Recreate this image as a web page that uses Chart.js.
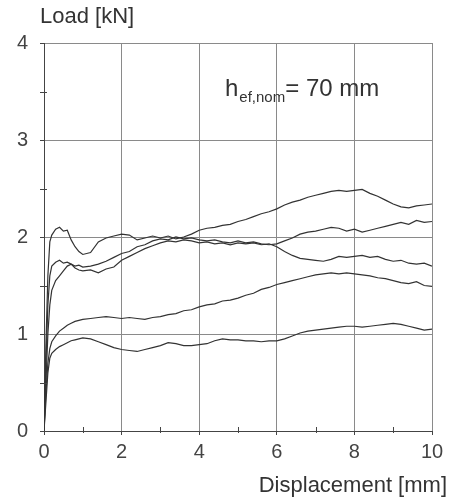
<!DOCTYPE html>
<html>
<head>
<meta charset="utf-8">
<script src="https://cdn.jsdelivr.net/npm/chart.js@4.4.1/dist/chart.umd.min.js"></script>
<style>
  body { margin: 0; background: #fff; }
  canvas { display: block; }
</style>
</head>
<body>
<canvas id="load-chart" width="458" height="502"></canvas>
<script>
// displacement values [mm] shared by all curves
const displacement = [0, 0.05, 0.1, 0.15, 0.2, 0.3, 0.4, 0.5, 0.6, 0.7, 0.8, 0.9, 1.0,
  1.2, 1.4, 1.6, 1.8, 2.0, 2.2, 2.4, 2.6, 2.8, 3.0, 3.2, 3.4, 3.6, 3.8, 4.0,
  4.2, 4.4, 4.6, 4.8, 5.0, 5.2, 5.4, 5.6, 5.8, 6.0, 6.2, 6.4, 6.6, 6.8, 7.0,
  7.2, 7.4, 7.6, 7.8, 8.0, 8.2, 8.4, 8.6, 8.8, 9.0, 9.2, 9.4, 9.6, 9.8, 10.0];

// load [kN] per test
const test1 = [0, 0.9, 1.6, 1.95, 2.02, 2.08, 2.10, 2.06, 2.07, 1.97, 1.90, 1.85, 1.82,
  1.84, 1.95, 1.99, 2.01, 2.03, 2.02, 1.97, 1.99, 2.01, 1.99, 2.01, 1.98, 2.00, 2.03, 2.07,
  2.09, 2.10, 2.12, 2.13, 2.16, 2.18, 2.21, 2.24, 2.26, 2.29, 2.33, 2.36, 2.38, 2.41, 2.43,
  2.45, 2.47, 2.48, 2.47, 2.48, 2.49, 2.45, 2.42, 2.38, 2.34, 2.31, 2.30, 2.32, 2.33, 2.34];
const test2 = [0, 0.7, 1.3, 1.6, 1.70, 1.74, 1.76, 1.73, 1.74, 1.72, 1.70, 1.71, 1.69,
  1.70, 1.72, 1.75, 1.79, 1.83, 1.85, 1.90, 1.92, 1.96, 1.98, 1.97, 2.00, 1.98, 1.99, 1.97,
  1.96, 1.97, 1.95, 1.94, 1.96, 1.94, 1.95, 1.93, 1.92, 1.93, 1.96, 1.99, 2.03, 2.05, 2.06,
  2.08, 2.10, 2.09, 2.06, 2.08, 2.05, 2.07, 2.09, 2.11, 2.13, 2.15, 2.13, 2.17, 2.15, 2.16];
const test3 = [0, 0.5, 1.0, 1.3, 1.45, 1.55, 1.60, 1.65, 1.70, 1.72, 1.68, 1.66, 1.65,
  1.66, 1.63, 1.67, 1.69, 1.76, 1.80, 1.84, 1.88, 1.91, 1.94, 1.96, 1.95, 1.97, 1.96, 1.94,
  1.95, 1.93, 1.94, 1.92, 1.94, 1.93, 1.94, 1.92, 1.93, 1.90, 1.85, 1.81, 1.78, 1.77, 1.76,
  1.75, 1.77, 1.80, 1.79, 1.80, 1.81, 1.79, 1.80, 1.77, 1.75, 1.76, 1.73, 1.72, 1.73, 1.70];
const test4 = [0, 0.4, 0.7, 0.85, 0.92, 0.98, 1.03, 1.06, 1.09, 1.11, 1.13, 1.14, 1.15,
  1.16, 1.17, 1.18, 1.17, 1.16, 1.17, 1.16, 1.15, 1.17, 1.18, 1.20, 1.21, 1.24, 1.25, 1.28,
  1.30, 1.31, 1.34, 1.35, 1.37, 1.40, 1.42, 1.46, 1.48, 1.51, 1.53, 1.55, 1.57, 1.59, 1.61,
  1.62, 1.63, 1.62, 1.63, 1.62, 1.61, 1.60, 1.58, 1.57, 1.55, 1.53, 1.52, 1.54, 1.50, 1.49];
const test5 = [0, 0.3, 0.6, 0.75, 0.80, 0.84, 0.87, 0.89, 0.91, 0.93, 0.94, 0.95, 0.96,
  0.95, 0.92, 0.89, 0.86, 0.84, 0.83, 0.82, 0.84, 0.86, 0.88, 0.91, 0.90, 0.88, 0.88, 0.89,
  0.90, 0.93, 0.95, 0.94, 0.94, 0.93, 0.93, 0.92, 0.93, 0.93, 0.95, 0.98, 1.01, 1.03, 1.04,
  1.05, 1.06, 1.07, 1.08, 1.08, 1.07, 1.08, 1.09, 1.10, 1.11, 1.10, 1.08, 1.06, 1.04, 1.05];

const xMinorTicks = [1, 3, 5, 7, 9];
const yMinorTicks = [0.5, 1.5, 2.5, 3.5];

const FONT = '"Liberation Sans", Arial, sans-serif';
const INK = '#333';

function toPoints(ys) {
  return displacement.map((x, i) => ({ x: x, y: ys[i] }));
}

// titles, annotation and minor ticks
const extras = {
  id: 'extras',
  afterDraw(chart) {
    const ctx = chart.ctx;
    const xs = chart.scales.x, ys = chart.scales.y;
    const a = chart.chartArea;
    ctx.save();
    ctx.strokeStyle = '#444';
    ctx.lineWidth = 1;
    ctx.beginPath();
    yMinorTicks.forEach(v => {
      const py = Math.round(ys.getPixelForValue(v)) + 0.5;
      ctx.moveTo(a.left - 4, py); ctx.lineTo(a.left + 3, py);
    });
    xMinorTicks.forEach(v => {
      const px = Math.round(xs.getPixelForValue(v)) + 0.5;
      ctx.moveTo(px, a.bottom - 4); ctx.lineTo(px, a.bottom + 2);
    });
    ctx.stroke();

    ctx.fillStyle = INK;
    ctx.textBaseline = 'alphabetic';
    ctx.font = '22px ' + FONT;
    ctx.textAlign = 'left';
    ctx.fillText('Load [kN]', 40, 23);
    ctx.textAlign = 'right';
    ctx.fillText('Displacement [mm]', 447, 492);

    // h_ef,nom = 70 mm
    ctx.textAlign = 'left';
    ctx.font = '24px ' + FONT;
    let x = 225;
    ctx.fillText('h', x, 96);
    x += ctx.measureText('h').width + 1;
    ctx.font = '15px ' + FONT;
    ctx.fillText('ef,nom', x, 102);
    x += ctx.measureText('ef,nom').width;
    ctx.font = '24px ' + FONT;
    ctx.fillText('= 70 mm', x, 96);
    ctx.restore();
  }
};

function createChart() {
  const ctx = document.getElementById('load-chart').getContext('2d');
  const tests = [test1, test2, test3, test4, test5];
  new Chart(ctx, {
    type: 'line',
    data: {
      datasets: tests.map(t => ({
        data: toPoints(t),
        borderColor: INK,
        borderWidth: 1.2,
        pointRadius: 0,
        tension: 0,
        fill: false
      }))
    },
    options: {
      responsive: false,
      animation: false,
      devicePixelRatio: 1,
      layout: { padding: { top: 43, right: 26, left: 0, bottom: 0 } },
      plugins: { legend: { display: false }, tooltip: { enabled: false } },
      scales: {
        x: {
          type: 'linear',
          min: 0, max: 10,
          afterFit: s => { s.height = 71; },
          ticks: { stepSize: 2, padding: 5, color: '#444', font: { family: FONT, size: 20 } },
          grid: { color: '#8a8a8a', lineWidth: 1, tickLength: 4, tickColor: '#444' },
          border: { color: '#444', width: 1 }
        },
        y: {
          type: 'linear',
          min: 0, max: 4,
          afterFit: s => { s.width = 44; },
          ticks: { stepSize: 1, padding: 12, color: '#444', font: { family: FONT, size: 20 } },
          grid: { color: '#8a8a8a', lineWidth: 1, tickLength: 4, tickColor: '#444' },
          border: { color: '#444', width: 1 }
        }
      }
    },
    plugins: [extras]
  });
}

document.addEventListener('DOMContentLoaded', function () {
  createChart();
});
</script>
</body>
</html>
